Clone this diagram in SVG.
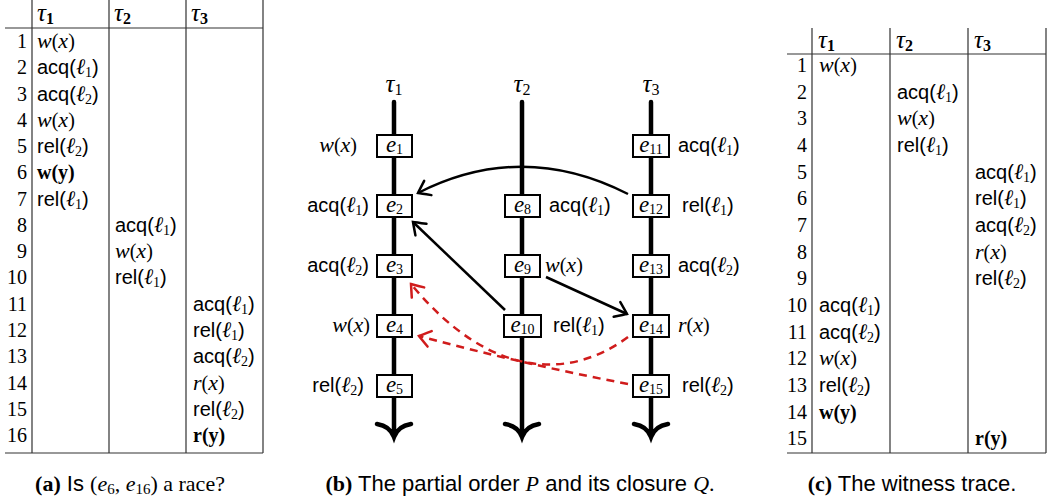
<svg xmlns="http://www.w3.org/2000/svg" width="1051" height="504" viewBox="0 0 1051 504">
<style>
text{font-family:"Liberation Serif",serif;font-size:20px;fill:#000}
.sf{font-family:"Liberation Sans",sans-serif}
.mi{font-family:"Liberation Serif",serif;font-style:italic;font-size:22px}
.bf{font-family:"Liberation Serif",serif;font-weight:bold}
.sub{font-size:14px;font-family:"Liberation Serif",serif;font-style:normal}
.num{text-anchor:end}
.tl{stroke:#333;stroke-width:1.2;fill:none}
.thread{stroke:#000;stroke-width:4.5;fill:none;stroke-linecap:round}
.box{fill:#fff;stroke:#000;stroke-width:2}
.blab{text-anchor:middle}
.blab .mi{font-size:23px}
.hd .mi,.th .mi{font-size:25px}
.hd .sub,.th .sub{font-size:16px}
.lab-l{text-anchor:end}
.edge{fill:none;stroke:#000;stroke-width:2.5;marker-end:url(#ah)}
.redge{fill:none;stroke:#d01c1c;stroke-width:2.5;stroke-dasharray:8 6;marker-end:url(#rah)}
.cap{text-anchor:middle;font-size:22px}
.cap .sub{font-size:15px}
</style>
<defs>
<marker id="ah" markerUnits="userSpaceOnUse" orient="auto" refX="0" refY="0" markerWidth="30" markerHeight="30" viewBox="-15 -15 30 30" overflow="visible">
<path d="M-11,-8 Q-2,-1.5 0,0 Q-2,1.5 -11,8" fill="none" stroke="#000" stroke-width="2.5" stroke-linecap="round"/>
</marker>
<marker id="rah" markerUnits="userSpaceOnUse" orient="auto" refX="0" refY="0" markerWidth="30" markerHeight="30" viewBox="-15 -15 30 30" overflow="visible">
<path d="M-11,-8 Q-2,-1.5 0,0 Q-2,1.5 -11,8" fill="none" stroke="#d01c1c" stroke-width="2.5" stroke-linecap="round"/>
</marker>
</defs>
<rect width="1051" height="504" fill="#fff"/>

<!-- (a) table -->
<g id="table-a">
<path class="tl" d="M5,28H263M5,453H263M32,0V453M109,0V453M186,0V453M263,0V453"/>
<text class="th" x="37" y="21"><tspan class="mi">τ</tspan><tspan class="sub bf" dy="3">1</tspan></text>
<text class="th" x="114" y="21"><tspan class="mi">τ</tspan><tspan class="sub bf" dy="3">2</tspan></text>
<text class="th" x="191" y="21"><tspan class="mi">τ</tspan><tspan class="sub bf" dy="3">3</tspan></text>
<g class="num">
<text x="27" y="48">1</text><text x="27" y="74.3">2</text><text x="27" y="100.5">3</text><text x="27" y="126.8">4</text>
<text x="27" y="153.1">5</text><text x="27" y="179.4">6</text><text x="27" y="205.6">7</text><text x="27" y="231.9">8</text>
<text x="27" y="258.2">9</text><text x="27" y="284.4">10</text><text x="27" y="310.7">11</text><text x="27" y="337">12</text>
<text x="27" y="363.2">13</text><text x="27" y="389.5">14</text><text x="27" y="415.8">15</text><text x="27" y="442">16</text>
</g>
<text x="37" y="48"><tspan class="mi">w</tspan>(<tspan class="mi">x</tspan>)</text>
<text x="37" y="74.3" class="sf">acq(<tspan class="mi">ℓ</tspan><tspan class="sub" dy="3">1</tspan><tspan dy="-3">)</tspan></text>
<text x="37" y="100.5" class="sf">acq(<tspan class="mi">ℓ</tspan><tspan class="sub" dy="3">2</tspan><tspan dy="-3">)</tspan></text>
<text x="37" y="126.8"><tspan class="mi">w</tspan>(<tspan class="mi">x</tspan>)</text>
<text x="37" y="153.1" class="sf">rel(<tspan class="mi">ℓ</tspan><tspan class="sub" dy="3">2</tspan><tspan dy="-3">)</tspan></text>
<text x="37" y="179.4" class="bf">w(y)</text>
<text x="37" y="205.6" class="sf">rel(<tspan class="mi">ℓ</tspan><tspan class="sub" dy="3">1</tspan><tspan dy="-3">)</tspan></text>
<text x="115" y="231.9" class="sf">acq(<tspan class="mi">ℓ</tspan><tspan class="sub" dy="3">1</tspan><tspan dy="-3">)</tspan></text>
<text x="115" y="258.2"><tspan class="mi">w</tspan>(<tspan class="mi">x</tspan>)</text>
<text x="115" y="284.4" class="sf">rel(<tspan class="mi">ℓ</tspan><tspan class="sub" dy="3">1</tspan><tspan dy="-3">)</tspan></text>
<text x="193" y="310.7" class="sf">acq(<tspan class="mi">ℓ</tspan><tspan class="sub" dy="3">1</tspan><tspan dy="-3">)</tspan></text>
<text x="193" y="337" class="sf">rel(<tspan class="mi">ℓ</tspan><tspan class="sub" dy="3">1</tspan><tspan dy="-3">)</tspan></text>
<text x="193" y="363.2" class="sf">acq(<tspan class="mi">ℓ</tspan><tspan class="sub" dy="3">2</tspan><tspan dy="-3">)</tspan></text>
<text x="193" y="389.5"><tspan class="mi">r</tspan>(<tspan class="mi">x</tspan>)</text>
<text x="193" y="415.8" class="sf">rel(<tspan class="mi">ℓ</tspan><tspan class="sub" dy="3">2</tspan><tspan dy="-3">)</tspan></text>
<text x="193" y="442" class="bf">r(y)</text>
<text class="cap" x="130" y="491"><tspan class="bf">(a)</tspan><tspan class="sf"> Is </tspan>(<tspan class="mi">e</tspan><tspan class="sub" dy="3">6</tspan><tspan dy="-3">, </tspan><tspan class="mi">e</tspan><tspan class="sub" dy="3">16</tspan><tspan dy="-3">) a race?</tspan></text>
</g>

<!-- (b) diagram -->
<g id="threads">
<text class="blab hd" x="394" y="92"><tspan class="mi">τ</tspan><tspan class="sub" dy="3">1</tspan></text>
<text class="blab hd" x="522" y="92"><tspan class="mi">τ</tspan><tspan class="sub" dy="3">2</tspan></text>
<text class="blab hd" x="651" y="92"><tspan class="mi">τ</tspan><tspan class="sub" dy="3">3</tspan></text>
<path class="thread" d="M394,102V436M377,424Q390,426 394,437Q398,426 411,424"/>
<path class="thread" d="M522,102V436M505,424Q518,426 522,437Q526,426 539,424"/>
<path class="thread" d="M651,102V436M634,424Q647,426 651,437Q655,426 668,424"/>
</g>

<g id="connectors">
<path class="edge" d="M628,194Q522,140 418,193"/>
<path class="edge" d="M505,310L413,222"/>
<path class="edge" d="M546,277L627,314"/>
<path class="redge" d="M628,337C570,380 490,380 411,284"/>
<path class="redge" d="M628,384Q523,364 419,336"/>
</g>

<g id="e1"><rect class="box" x="377" y="135" width="35" height="22"/><text class="blab" x="394.5" y="152"><tspan class="mi">e</tspan><tspan class="sub" dy="2">1</tspan></text><text class="lab-l" x="357" y="152"><tspan class="mi">w</tspan>(<tspan class="mi">x</tspan>)</text></g>
<g id="e2"><rect class="box" x="377" y="195" width="35" height="22"/><text class="blab" x="394.5" y="212"><tspan class="mi">e</tspan><tspan class="sub" dy="2">2</tspan></text><text class="lab-l sf" x="369" y="212">acq(<tspan class="mi">ℓ</tspan><tspan class="sub" dy="3">1</tspan><tspan dy="-3">)</tspan></text></g>
<g id="e3"><rect class="box" x="377" y="255" width="35" height="22"/><text class="blab" x="394.5" y="272"><tspan class="mi">e</tspan><tspan class="sub" dy="2">3</tspan></text><text class="lab-l sf" x="369" y="272">acq(<tspan class="mi">ℓ</tspan><tspan class="sub" dy="3">2</tspan><tspan dy="-3">)</tspan></text></g>
<g id="e4"><rect class="box" x="377" y="315" width="35" height="22"/><text class="blab" x="394.5" y="332"><tspan class="mi">e</tspan><tspan class="sub" dy="2">4</tspan></text><text class="lab-l" x="370" y="332"><tspan class="mi">w</tspan>(<tspan class="mi">x</tspan>)</text></g>
<g id="e5"><rect class="box" x="377" y="375" width="35" height="22"/><text class="blab" x="394.5" y="392"><tspan class="mi">e</tspan><tspan class="sub" dy="2">5</tspan></text><text class="lab-l sf" x="364" y="392">rel(<tspan class="mi">ℓ</tspan><tspan class="sub" dy="3">2</tspan><tspan dy="-3">)</tspan></text></g>

<g id="e8"><rect class="box" x="505" y="195" width="35" height="22"/><text class="blab" x="522.5" y="212"><tspan class="mi">e</tspan><tspan class="sub" dy="2">8</tspan></text><text class="sf" x="549" y="212">acq(<tspan class="mi">ℓ</tspan><tspan class="sub" dy="3">1</tspan><tspan dy="-3">)</tspan></text></g>
<g id="e9"><rect class="box" x="505" y="255" width="35" height="22"/><text class="blab" x="522.5" y="272"><tspan class="mi">e</tspan><tspan class="sub" dy="2">9</tspan></text><text x="545" y="272"><tspan class="mi">w</tspan>(<tspan class="mi">x</tspan>)</text></g>
<g id="e10"><rect class="box" x="504" y="315" width="37" height="22"/><text class="blab" x="522.5" y="332"><tspan class="mi">e</tspan><tspan class="sub" dy="2">10</tspan></text><text class="sf" x="553" y="332">rel(<tspan class="mi">ℓ</tspan><tspan class="sub" dy="3">1</tspan><tspan dy="-3">)</tspan></text></g>

<g id="e11"><rect class="box" x="633" y="135" width="36" height="22"/><text class="blab" x="651" y="152"><tspan class="mi">e</tspan><tspan class="sub" dy="2">11</tspan></text><text class="sf" x="678" y="152">acq(<tspan class="mi">ℓ</tspan><tspan class="sub" dy="3">1</tspan><tspan dy="-3">)</tspan></text></g>
<g id="e12"><rect class="box" x="633" y="195" width="36" height="22"/><text class="blab" x="651" y="212"><tspan class="mi">e</tspan><tspan class="sub" dy="2">12</tspan></text><text class="sf" x="682" y="212">rel(<tspan class="mi">ℓ</tspan><tspan class="sub" dy="3">1</tspan><tspan dy="-3">)</tspan></text></g>
<g id="e13"><rect class="box" x="633" y="255" width="36" height="22"/><text class="blab" x="651" y="272"><tspan class="mi">e</tspan><tspan class="sub" dy="2">13</tspan></text><text class="sf" x="678" y="272">acq(<tspan class="mi">ℓ</tspan><tspan class="sub" dy="3">2</tspan><tspan dy="-3">)</tspan></text></g>
<g id="e14"><rect class="box" x="633" y="315" width="36" height="22"/><text class="blab" x="651" y="332"><tspan class="mi">e</tspan><tspan class="sub" dy="2">14</tspan></text><text x="678" y="332"><tspan class="mi">r</tspan>(<tspan class="mi">x</tspan>)</text></g>
<g id="e15"><rect class="box" x="633" y="375" width="36" height="22"/><text class="blab" x="651" y="392"><tspan class="mi">e</tspan><tspan class="sub" dy="2">15</tspan></text><text class="sf" x="682" y="392">rel(<tspan class="mi">ℓ</tspan><tspan class="sub" dy="3">2</tspan><tspan dy="-3">)</tspan></text></g>

<text class="cap" x="520" y="491"><tspan class="bf">(b)</tspan><tspan class="sf"> The partial order </tspan><tspan class="mi">P</tspan><tspan class="sf"> and its closure </tspan><tspan class="mi">Q</tspan>.</text>

<!-- (c) table -->
<g id="table-c">
<path class="tl" d="M787,54H1046M787,453H1046M812,28V453M890,28V453M968,28V453M1046,28V453"/>
<text class="th" x="818" y="48"><tspan class="mi">τ</tspan><tspan class="sub bf" dy="3">1</tspan></text>
<text class="th" x="896" y="48"><tspan class="mi">τ</tspan><tspan class="sub bf" dy="3">2</tspan></text>
<text class="th" x="974" y="48"><tspan class="mi">τ</tspan><tspan class="sub bf" dy="3">3</tspan></text>
<g class="num">
<text x="807" y="72">1</text><text x="807" y="98.7">2</text><text x="807" y="125.3">3</text><text x="807" y="152">4</text>
<text x="807" y="178.6">5</text><text x="807" y="205.3">6</text><text x="807" y="231.9">7</text><text x="807" y="258.6">8</text>
<text x="807" y="285.2">9</text><text x="807" y="311.9">10</text><text x="807" y="338.5">11</text><text x="807" y="365.2">12</text>
<text x="807" y="391.8">13</text><text x="807" y="418.5">14</text><text x="807" y="445.1">15</text>
</g>
<text x="819" y="72"><tspan class="mi">w</tspan>(<tspan class="mi">x</tspan>)</text>
<text x="897" y="98.7" class="sf">acq(<tspan class="mi">ℓ</tspan><tspan class="sub" dy="3">1</tspan><tspan dy="-3">)</tspan></text>
<text x="897" y="125.3"><tspan class="mi">w</tspan>(<tspan class="mi">x</tspan>)</text>
<text x="897" y="152" class="sf">rel(<tspan class="mi">ℓ</tspan><tspan class="sub" dy="3">1</tspan><tspan dy="-3">)</tspan></text>
<text x="975" y="178.6" class="sf">acq(<tspan class="mi">ℓ</tspan><tspan class="sub" dy="3">1</tspan><tspan dy="-3">)</tspan></text>
<text x="975" y="205.3" class="sf">rel(<tspan class="mi">ℓ</tspan><tspan class="sub" dy="3">1</tspan><tspan dy="-3">)</tspan></text>
<text x="975" y="231.9" class="sf">acq(<tspan class="mi">ℓ</tspan><tspan class="sub" dy="3">2</tspan><tspan dy="-3">)</tspan></text>
<text x="975" y="258.6"><tspan class="mi">r</tspan>(<tspan class="mi">x</tspan>)</text>
<text x="975" y="285.2" class="sf">rel(<tspan class="mi">ℓ</tspan><tspan class="sub" dy="3">2</tspan><tspan dy="-3">)</tspan></text>
<text x="819" y="311.9" class="sf">acq(<tspan class="mi">ℓ</tspan><tspan class="sub" dy="3">1</tspan><tspan dy="-3">)</tspan></text>
<text x="819" y="338.5" class="sf">acq(<tspan class="mi">ℓ</tspan><tspan class="sub" dy="3">2</tspan><tspan dy="-3">)</tspan></text>
<text x="819" y="365.2"><tspan class="mi">w</tspan>(<tspan class="mi">x</tspan>)</text>
<text x="819" y="391.8" class="sf">rel(<tspan class="mi">ℓ</tspan><tspan class="sub" dy="3">2</tspan><tspan dy="-3">)</tspan></text>
<text x="819" y="418.5" class="bf">w(y)</text>
<text x="975" y="445.1" class="bf">r(y)</text>
<text class="cap" x="912" y="491"><tspan class="bf">(c)</tspan><tspan class="sf"> The witness trace.</tspan></text>
</g>
</svg>
